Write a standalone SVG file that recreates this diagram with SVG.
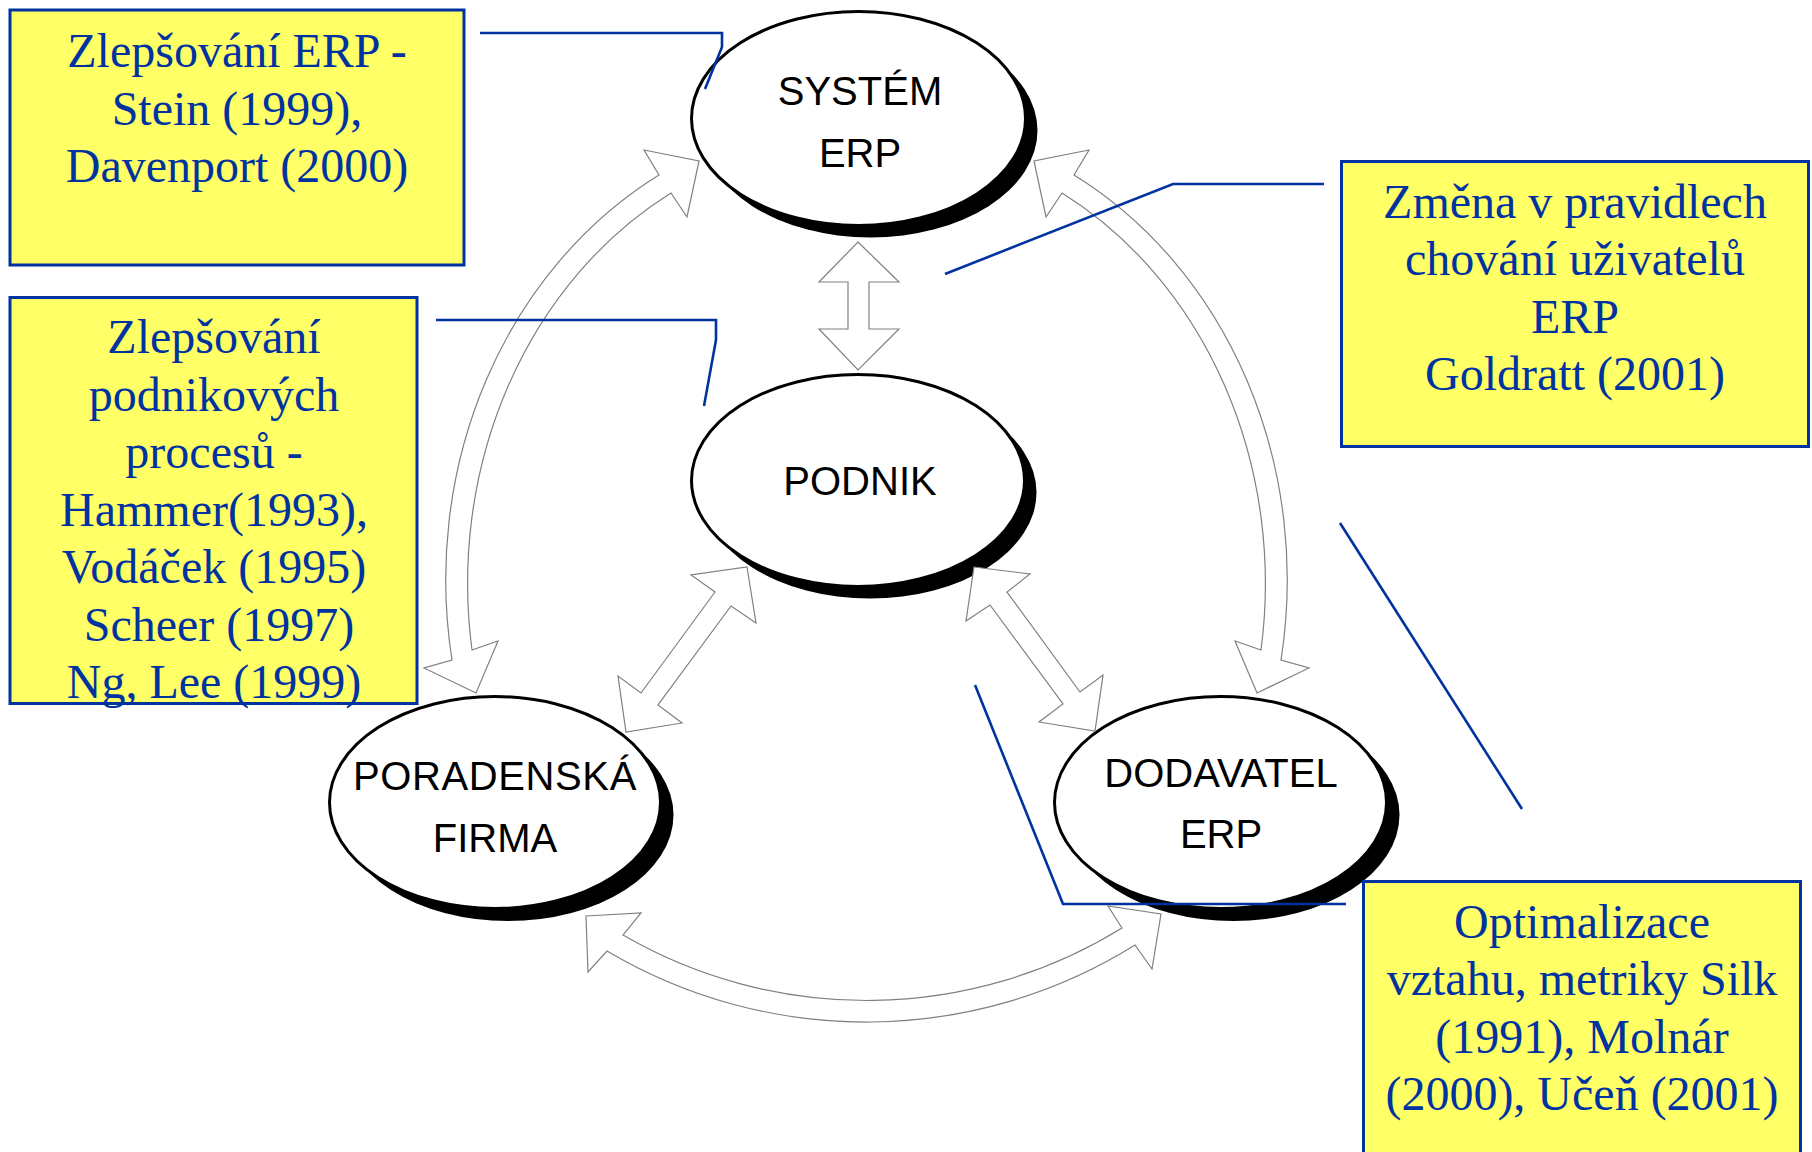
<svg xmlns="http://www.w3.org/2000/svg" width="1812" height="1152" viewBox="0 0 1812 1152">
  <style>
    .shadow { fill: #000; }
    .oval { fill: #fff; stroke: #000; stroke-width: 3; }
    .lbl { font-family: "Liberation Sans", Arial, sans-serif; font-size: 40px; fill: #000; text-anchor: middle; }
    .arrow { fill: #fff; stroke: #808080; stroke-width: 1.2; stroke-linejoin: miter; }
    .note { fill: #ffff66; stroke: #0033a0; stroke-width: 3; }
    .ntxt { font-family: "Liberation Serif", "Times New Roman", serif; font-size: 48px; fill: #0033a0; text-anchor: middle; }
    .lead { fill: none; stroke: #0033a0; stroke-width: 2.6; stroke-linejoin: miter; }
  </style>

  <rect x="0" y="0" width="1812" height="1152" fill="#fff"/>

  <!-- entity ovals with drop shadow -->
  <g id="system-erp">
    <ellipse class="shadow" cx="870.5" cy="130.5" rx="167" ry="107"/>
    <ellipse class="oval" cx="858.5" cy="118.5" rx="167" ry="107"/>
    <text class="lbl" x="860" y="105">SYSTÉM</text>
    <text class="lbl" x="860" y="167">ERP</text>
  </g>

  <g id="podnik">
    <ellipse class="shadow" cx="870" cy="492.5" rx="166.5" ry="106"/>
    <ellipse class="oval" cx="858" cy="480.5" rx="166.5" ry="106"/>
    <text class="lbl" x="860" y="495">PODNIK</text>
  </g>

  <g id="poradenska-firma">
    <ellipse class="shadow" cx="508" cy="815" rx="165.5" ry="106"/>
    <ellipse class="oval" cx="495" cy="802.5" rx="165.5" ry="106"/>
    <text class="lbl" x="495" y="790" letter-spacing="0.6">PORADENSKÁ</text>
    <text class="lbl" x="495" y="852">FIRMA</text>
  </g>

  <g id="dodavatel-erp">
    <ellipse class="shadow" cx="1233.5" cy="815" rx="166" ry="106"/>
    <ellipse class="oval" cx="1220.5" cy="802.5" rx="166" ry="106"/>
    <text class="lbl" x="1221" y="787">DODAVATEL</text>
    <text class="lbl" x="1221" y="848">ERP</text>
  </g>

  <!-- two-headed block arrows between the entities -->
  <g id="connectors">
    <!-- SYSTÉM ERP <-> PODNIK -->
    <path class="arrow" d="M858 242 L899 282 L869 282 L869 329 L899 329 L858 370 L819 329 L848 329 L848 282 L819 282 Z"/>
    <!-- SYSTÉM ERP <-> PORADENSKÁ FIRMA -->
    <path id="arc-left" class="arrow" d="M699 161 L687 217 L671 193 A391 445 0 0 0 472 650 L498 641 L476 693 L424 668 L452 660 A412 462 0 0 1 659 175 L644 150 Z"/>
    <!-- SYSTÉM ERP <-> DODAVATEL ERP (mirror of the left arc) -->
    <path class="arrow" transform="translate(1733 0) scale(-1 1)" d="M699 161 L687 217 L671 193 A391 445 0 0 0 472 650 L498 641 L476 693 L424 668 L452 660 A412 462 0 0 1 659 175 L644 150 Z"/>
    <!-- PORADENSKÁ FIRMA <-> DODAVATEL ERP -->
    <path class="arrow" d="M586 916 L641 913 L623 935 A486 486 0 0 0 1122 928 L1108 906 L1161 914 L1152 969 L1135 945 A508 508 0 0 1 607 951 L588 972 Z"/>
    <!-- PODNIK <-> PORADENSKÁ FIRMA -->
    <path class="arrow" d="M747 567 L756 623 L731 606 L658 705 L682 723 L626 732 L618 676 L641 693 L715 592 L691 575 Z"/>
    <!-- PODNIK <-> DODAVATEL ERP -->
    <path class="arrow" d="M974 567 L1030 574 L1007 592 L1080 692 L1103 675 L1095 731 L1039 722 L1063 704 L990 605 L966 621 Z"/>
  </g>

  <!-- literature notes -->
  <g id="note-erp">
    <rect class="note" x="10" y="10" width="454" height="255"/>
    <text class="ntxt" x="237" y="67">Zlepšování ERP -</text>
    <text class="ntxt" x="237" y="124.5">Stein (1999),</text>
    <text class="ntxt" x="237" y="182">Davenport (2000)</text>
  </g>

  <g id="note-processes">
    <rect class="note" x="10" y="297.5" width="407" height="406"/>
    <text class="ntxt" x="214" y="353">Zlepšování</text>
    <text class="ntxt" x="214" y="410.5">podnikových</text>
    <text class="ntxt" x="214" y="468">procesů -</text>
    <text class="ntxt" x="214" y="525.5">Hammer(1993),</text>
    <text class="ntxt" x="214" y="583">Vodáček (1995)</text>
    <text class="ntxt" x="219" y="640.5">Scheer (1997)</text>
    <text class="ntxt" x="214" y="698">Ng, Lee (1999)</text>
  </g>

  <g id="note-users">
    <rect class="note" x="1341.5" y="161.5" width="467" height="285"/>
    <text class="ntxt" x="1575" y="218">Změna v pravidlech</text>
    <text class="ntxt" x="1575" y="275">chování uživatelů</text>
    <text class="ntxt" x="1575" y="333">ERP</text>
    <text class="ntxt" x="1575" y="390">Goldratt (2001)</text>
  </g>

  <g id="note-relations">
    <rect class="note" x="1363.5" y="881.5" width="437" height="300"/>
    <text class="ntxt" x="1582" y="938">Optimalizace</text>
    <text class="ntxt" x="1582" y="995">vztahu, metriky Silk</text>
    <text class="ntxt" x="1582" y="1053">(1991), Molnár</text>
    <text class="ntxt" x="1582" y="1110">(2000), Učeň (2001)</text>
  </g>

  <!-- leader lines from the notes -->
  <g id="leaders">
    <polyline class="lead" points="480,33 722,33 722,47 705,89"/>
    <polyline class="lead" points="436,320 716,320 716,340 704,406"/>
    <polyline class="lead" points="945,274 1173,184 1324,184"/>
    <polyline class="lead" points="975,685 1063,904 1346,904"/>
    <line class="lead" x1="1340" y1="523" x2="1522" y2="809"/>
  </g>
</svg>
